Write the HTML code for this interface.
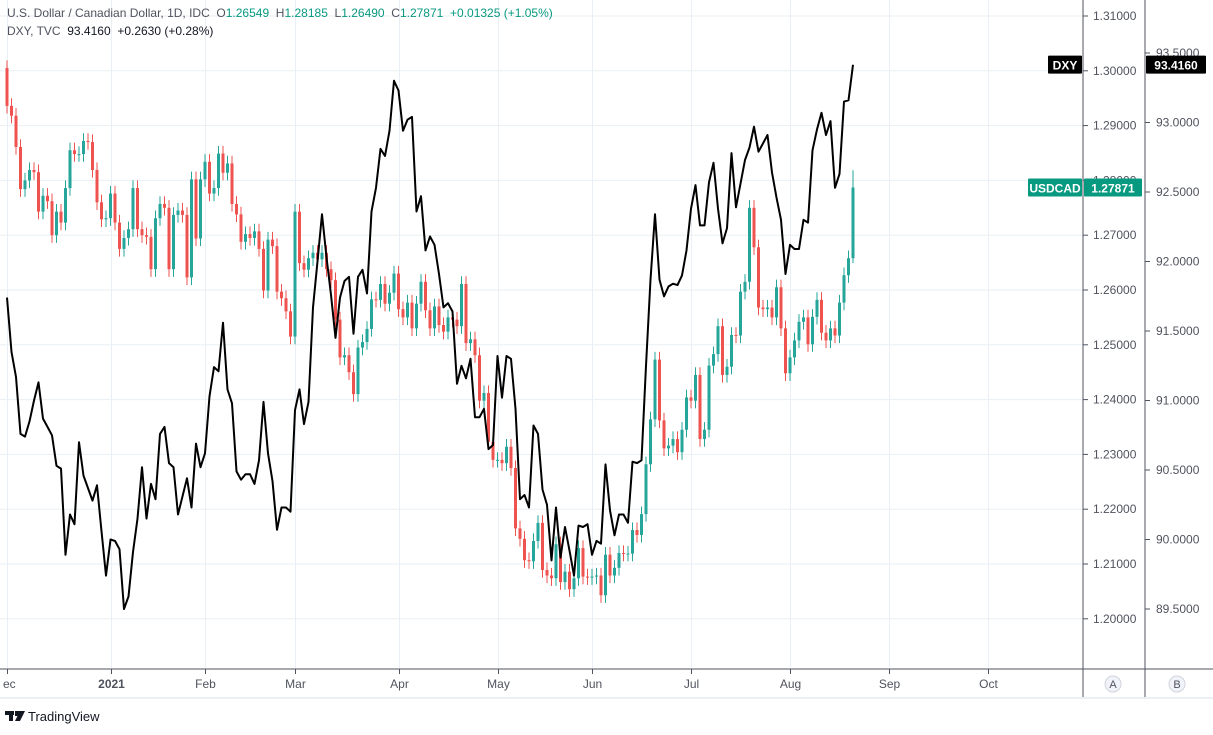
<!DOCTYPE html>
<html><head><meta charset="utf-8"><style>
html,body{margin:0;padding:0;background:#fff;}
svg{display:block;font-family:"Liberation Sans",sans-serif;}
</style></head><body>
<svg id="chart" width="1213" height="735" viewBox="0 0 1213 735" xmlns="http://www.w3.org/2000/svg">
<g id="grid"></g>
<g id="candles"></g>
<path id="dxyLine" fill="none" stroke="#000" stroke-width="2" stroke-linejoin="round"/>
<g id="axes"></g>
<g font-size="12">
<text x="7" y="17" fill="#50535e">U.S. Dollar / Canadian Dollar, 1D, IDC&#160; O<tspan fill="#089981">1.26549</tspan>&#160; H<tspan fill="#089981">1.28185</tspan>&#160; L<tspan fill="#089981">1.26490</tspan>&#160; C<tspan fill="#089981">1.27871</tspan>&#160; <tspan fill="#089981">+0.01325 (+1.05%)</tspan></text>
<text x="7" y="35" fill="#50535e">DXY, TVC&#160; <tspan fill="#131722">93.4160</tspan>&#160; <tspan fill="#131722">+0.2630 (+0.28%)</tspan></text>
</g>
<g>
<g fill="#131722">
<rect x="5" y="711" width="9" height="4"/><rect x="9" y="711" width="4" height="10"/><rect x="15" y="711" width="5" height="5"/><polygon points="20,711 25,711 20,721 15,721"/>
</g>
<text x="28" y="721" font-size="13" fill="#131722">TradingView</text>
</g>
</svg>
<script>
const usdcadOpen0 = 1.3005;
const usdcadClose = [1.2936,1.2918,1.2861,1.2784,1.2800,1.2819,1.2815,1.2743,1.2772,1.2762,1.2700,1.2743,1.2723,1.2786,1.2855,1.2848,1.2848,1.2872,1.2870,1.2819,1.2760,1.2729,1.2731,1.2776,1.2723,1.2675,1.2695,1.2711,1.2786,1.2711,1.2700,1.2697,1.2638,1.2731,1.2757,1.2750,1.2638,1.2737,1.2745,1.2737,1.2623,1.2802,1.2694,1.2802,1.2834,1.2776,1.2786,1.2849,1.2814,1.2831,1.2757,1.2738,1.2688,1.2702,1.2695,1.2707,1.2675,1.2599,1.2692,1.2680,1.2597,1.2585,1.2561,1.2515,1.2743,1.2649,
1.2637,1.2658,1.2668,1.2656,1.2668,1.2638,1.2618,1.2546,1.2477,1.2481,1.2450,1.2410,1.2495,1.2505,1.2529,1.2583,1.2582,1.2611,1.2575,1.2595,1.2630,1.2565,1.2550,1.2577,1.2530,1.2575,1.2615,1.2563,1.2530,1.2570,1.2536,1.2524,1.2550,1.2546,1.2534,1.2611,1.2503,1.2510,1.2481,1.2398,1.2412,1.2323,1.2290,1.2290,1.2284,1.2314,1.2275,1.2165,1.2146,1.2107,1.2105,1.2142,1.2175,1.2089,1.2079,1.2074,1.2136,1.2067,1.2086,1.2054,1.2074,1.2129,1.2077,1.2076,
1.2077,1.2079,1.2043,1.2117,1.2079,1.2093,1.2120,1.2119,1.2119,1.2162,1.2153,1.2191,1.2282,1.2364,1.2473,1.2362,1.2311,1.2316,1.2328,1.2304,1.2345,1.2404,1.2398,1.2445,1.2328,1.2345,1.2462,1.2483,1.2534,1.2445,1.2460,1.2518,1.2517,1.2597,1.2615,1.2750,1.2678,1.2568,1.2565,1.2568,1.2550,1.2605,1.2530,1.2448,1.2477,1.2508,1.2542,1.2550,1.2501,1.2551,1.2582,1.2522,1.2508,1.2530,1.2517,1.2577,1.2627,1.2658,1.27871];
const dxyValues = [91.74,91.35,91.17,90.76,90.74,90.85,91.00,91.13,90.87,90.81,90.75,90.53,90.51,89.89,90.18,90.11,90.70,90.46,90.37,90.28,90.39,90.06,89.74,90.00,89.99,89.93,89.50,89.59,89.91,90.15,90.52,90.15,90.40,90.29,90.76,90.81,90.55,90.52,90.18,90.31,90.44,90.23,90.69,90.52,90.62,91.03,91.24,91.21,91.56,91.08,90.98,90.49,90.43,90.47,90.47,90.40,90.57,90.99,90.62,90.42,90.07,90.23,90.23,90.20,90.93,91.08,90.83,
90.99,91.67,92.00,92.34,92.03,91.76,91.45,91.74,91.86,91.89,91.48,91.89,91.94,91.77,92.36,92.53,92.81,92.76,92.94,93.30,93.23,92.94,93.02,93.04,92.36,92.47,92.08,92.18,92.12,91.91,91.67,91.70,91.64,91.12,91.25,91.16,91.30,90.88,90.88,90.94,90.65,90.68,91.32,91.02,91.32,91.30,90.94,90.29,90.32,90.23,90.82,90.76,90.36,90.25,89.85,90.23,89.87,90.09,89.92,89.74,90.10,90.09,
90.11,89.89,89.99,89.97,90.54,90.21,90.03,90.18,90.18,90.12,90.56,90.55,90.57,91.25,91.87,92.34,91.87,91.75,91.82,91.84,91.83,91.90,92.08,92.38,92.55,92.26,92.26,92.57,92.71,92.38,92.13,92.24,92.78,92.39,92.56,92.73,92.82,92.97,92.79,92.85,92.91,92.64,92.46,92.30,91.91,92.12,92.09,92.09,92.30,92.28,92.80,92.95,93.07,92.91,93.01,92.53,92.63,93.15,93.16,93.416];
const usdcadTicks = ["1.31000","1.30000","1.29000","1.28000","1.27000","1.26000","1.25000","1.24000","1.23000","1.22000","1.21000","1.20000"];
const dxyTicks = ["93.5000","93.0000","92.5000","92.0000","91.5000","91.0000","90.5000","90.0000","89.5000"];
const monthLabels = ["ec","2021","Feb","Mar","Apr","May","Jun","Jul","Aug","Sep","Oct"];
const monthBars = [0,23,44,64,87,109,130,152,174,196,218]; // bar index of month start

const NS="http://www.w3.org/2000/svg";
function mk(tag,attrs,parent){const e=document.createElementNS(NS,tag);for(const k in attrs)e.setAttribute(k,attrs[k]);parent.appendChild(e);return e;}
const yU = p => 16 + (1.31 - p) * 5480;
const yD = v => 53 + (93.5 - v) * 139;
const xBar = i => 7 + i * 4.5;
const grid=document.getElementById('grid'), axes=document.getElementById('axes'), cg=document.getElementById('candles');

usdcadTicks.forEach(t=>{
  const y=yU(parseFloat(t));
  const l=mk('line',{x1:0,x2:1083,y1:y,y2:y,stroke:'#e9eff4','stroke-width':1},grid);
  
  
  const tk=mk('line',{x1:1083,x2:1088,y1:y,y2:y,stroke:'#50535e'},axes);
  
  
  const tx=mk('text',{x:1093,y:y+4,'font-size':12,fill:'#50535e'},axes);
  tx.textContent=t;
  
  
});
dxyTicks.forEach(t=>{
  const y=yD(parseFloat(t));
  const tk=mk('line',{x1:1145,x2:1150,y1:y,y2:y,stroke:'#50535e'},axes);
  
  
  const tx=mk('text',{x:1156,y:y+4,'font-size':12,fill:'#50535e'},axes);
  tx.textContent=t;
  
  
});
monthBars.forEach((d,i)=>{
  const x=Math.round(xBar(d))+0.5;
  const l=mk('line',{x1:x,x2:x,y1:0,y2:668,stroke:'#e9eff4'},grid);
  
  
  const tk=mk('line',{x1:x,x2:x,y1:669,y2:674,stroke:'#50535e'},axes);
  
  
  const tx=mk('text',{x:i===0?3:x,y:688,'font-size':12,fill:'#50535e','text-anchor':i===0?'start':'middle','font-weight':i===1?'bold':'normal'},axes);
  tx.textContent=monthLabels[i];
  
  
});
[[0,669,1213,669],[1083,0,1083,697],[1145,0,1145,697]].forEach(a=>{
  const l=mk('line',{x1:a[0],y1:a[1],x2:a[2],y2:a[3],stroke:'#50535e','stroke-width':1},axes);
  
  
});
const bl=mk('line',{x1:0,y1:698,x2:1213,y2:698,stroke:'#eceff4','stroke-width':2},axes);


// candles
const n=usdcadClose.length;
usdcadClose.forEach((c,i)=>{
  const o=i===0?usdcadOpen0:usdcadClose[i-1];
  const up=c>=o, col=up?'#26a69a':'#ef5350';
  const x=xBar(i);
  const hi=i===n-1?1.28185:Math.max(o,c)+0.0014, lo=i===n-1?1.2649:Math.min(o,c)-0.0014;
  const w=mk('line',{x1:x,x2:x,y1:yU(hi),y2:yU(lo),stroke:col,'stroke-width':1},cg);
  
  
  const top=yU(Math.max(o,c)), h=Math.max(1,yU(Math.min(o,c))-top);
  const b=mk('rect',{x:x-1.5,y:top,width:3,height:h,fill:col},cg);
  
  
});
const m=dxyValues.length;
document.getElementById('dxyLine').setAttribute('d',dxyValues.map((v,i)=>(i?'L':'M')+xBar(i).toFixed(1)+' '+yD(v).toFixed(1)).join(' '));
function tag(x,y,w,txt,bg,name){
  const g=mk('g',{},axes);
  
  
  mk('rect',{x:x,y:y-9,width:w,height:18,fill:bg,rx:1},g);
  const t=mk('text',{x:x+w/2,y:y+5,'font-size':12,'font-weight':'bold',fill:'#fff','text-anchor':'middle'},g);
  t.textContent=txt;
}
const dl=dxyValues[m-1], ul=usdcadClose[n-1];
tag(1048,yD(dl),34,'DXY','#000','dxy-name-tag');
tag(1146,yD(dl),60,dl.toFixed(4),'#000','dxy-price-tag');
tag(1028,yU(ul),54,'USDCAD','#089981','usdcad-name-tag');
tag(1084,yU(ul),58,ul.toFixed(5),'#089981','usdcad-price-tag');
[[1113,'A'],[1177,'B']].forEach(a=>{
  const c=mk('circle',{cx:a[0],cy:684,r:8,fill:'#f0f3fa',stroke:'#d1d4dc'},axes);
  
  
  const t=mk('text',{x:a[0],y:688,'font-size':11,fill:'#50535e','text-anchor':'middle'},axes);
  t.textContent=a[1];
  
  
});
</script>
</body></html>
